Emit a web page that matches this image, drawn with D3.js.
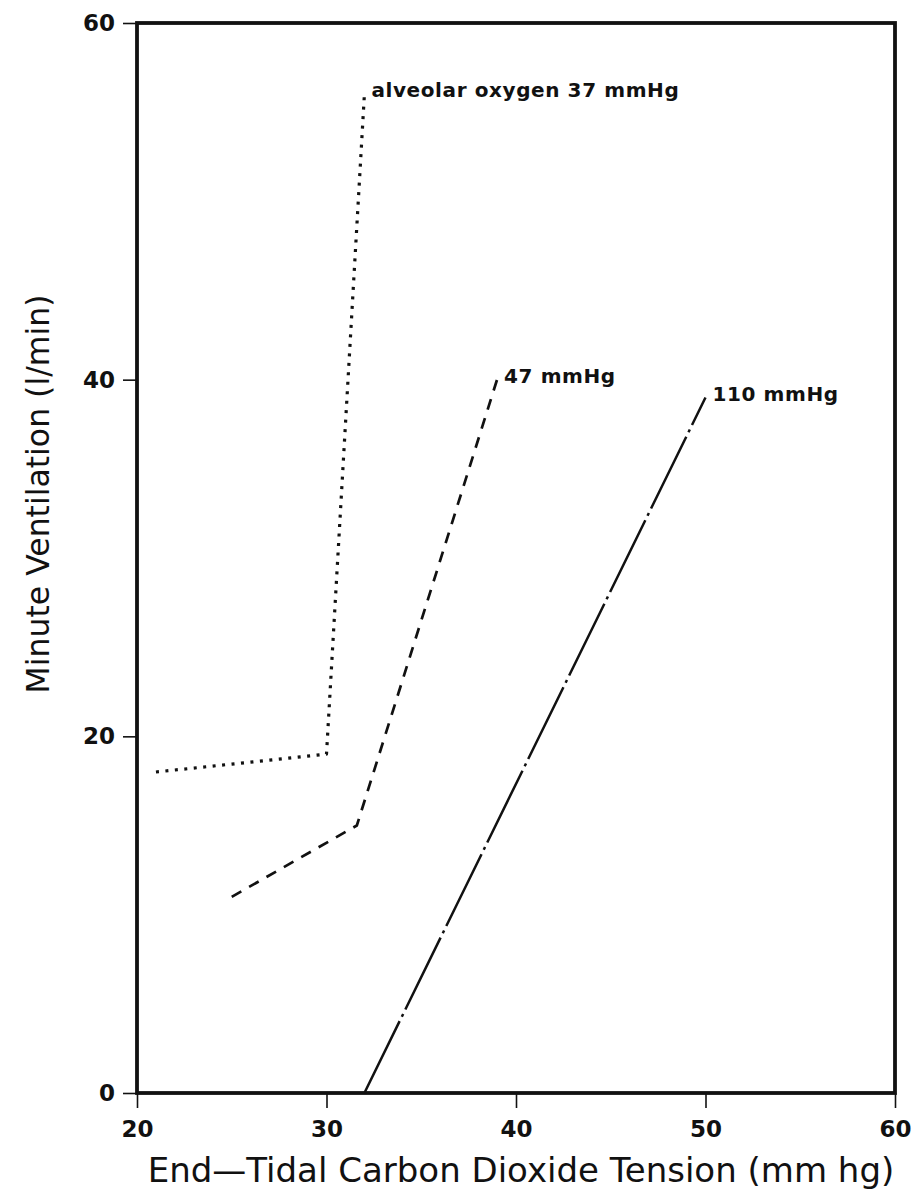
<!DOCTYPE html>
<html>
<head>
<meta charset="utf-8">
<script src="https://cdn.jsdelivr.net/npm/d3@7"></script>
<style>
  html, body { margin: 0; padding: 0; background: #fff; }
  svg { display: block; }
  text { fill: #111; }
</style>
</head>
<body>
<svg id="chart" width="918" height="1195"></svg>
<script>
// End-tidal CO2 (mm Hg) vs minute ventilation (l/min) at three alveolar O2 levels
const xTicks = [20, 30, 40, 50, 60];
const yTicks = [0, 20, 40, 60];

const o2_37_x = [21, 30, 32];
const o2_37_y = [18, 19, 56];

const o2_47_x = [25, 31.6, 39];
const o2_47_y = [11, 15, 40];

const o2_110_x = [32, 50];
const o2_110_y = [0, 39];

const seriesLabels = ["alveolar oxygen 37 mmHg", "47 mmHg", "110 mmHg"];

const svg = d3.select("#chart");
const plotL = 137, plotR = 895, plotT = 23, plotB = 1093;

const x = d3.scaleLinear().domain([20, 60]).range([plotL, plotR]);
const y = d3.scaleLinear().domain([0, 60]).range([plotB, plotT]);

const font = "'DejaVu Sans', sans-serif";

// axes
const xAxis = svg.append("g")
  .attr("transform", `translate(0,${plotB})`)
  .call(d3.axisBottom(x).tickValues(xTicks).tickSize(15).tickPadding(13).tickFormat(d3.format("d")));
const yAxis = svg.append("g")
  .attr("transform", `translate(${plotL},0)`)
  .call(d3.axisLeft(y).tickValues(yTicks).tickSize(14).tickPadding(8).tickFormat(d3.format("d")));

[xAxis, yAxis].forEach(g => {
  g.select(".domain").remove();
  g.selectAll(".tick line").attr("stroke", "#111").attr("stroke-width", 1.6);
  g.selectAll(".tick text")
    .attr("font-family", font)
    .attr("font-weight", "bold")
    .attr("font-size", 23)
    .attr("fill", "#111");
});

// plot frame
svg.append("rect")
  .attr("x", x(20)).attr("y", y(60))
  .attr("width", x(60) - x(20)).attr("height", y(0) - y(60))
  .attr("fill", "none").attr("stroke", "#111").attr("stroke-width", 3.8);

// curves
const line = d3.line().x(d => x(d[0])).y(d => y(d[1]));
const series = [
  { xs: o2_37_x, ys: o2_37_y, dash: "3,6.5", width: 3.2 },
  { xs: o2_47_x, ys: o2_47_y, dash: "11,9", width: 2.7 },
  { xs: o2_110_x, ys: o2_110_y, dash: "80,5,3,5", width: 2.5 }
];
series.forEach((s, i) => {
  const pts = s.xs.map((v, j) => [v, s.ys[j]]);
  svg.append("path")
    .datum(pts)
    .attr("d", line)
    .attr("fill", "none")
    .attr("stroke", "#111")
    .attr("stroke-width", s.width)
    .attr("stroke-dasharray", s.dash)
    .attr("stroke-linejoin", "round");

  const end = pts[pts.length - 1];
  svg.append("text")
    .attr("x", x(end[0]) + 7)
    .attr("y", y(end[1]) + 3)
    .attr("font-family", font)
    .attr("font-weight", "bold")
    .attr("font-size", 20)
    .attr("letter-spacing", 0.6)
    .text(seriesLabels[i]);
});

// axis titles
svg.append("text")
  .attr("x", (plotL + plotR) / 2 + 5)
  .attr("y", 1182)
  .attr("text-anchor", "middle")
  .attr("font-family", font)
  .attr("font-size", 34)
  .text("End\u2014Tidal Carbon Dioxide Tension (mm hg)");

svg.append("text")
  .attr("transform", `translate(49,494) rotate(-90)`)
  .attr("text-anchor", "middle")
  .attr("font-family", font)
  .attr("font-size", 31.5)
  .text("Minute Ventilation (l/min)");
</script>
</body>
</html>
